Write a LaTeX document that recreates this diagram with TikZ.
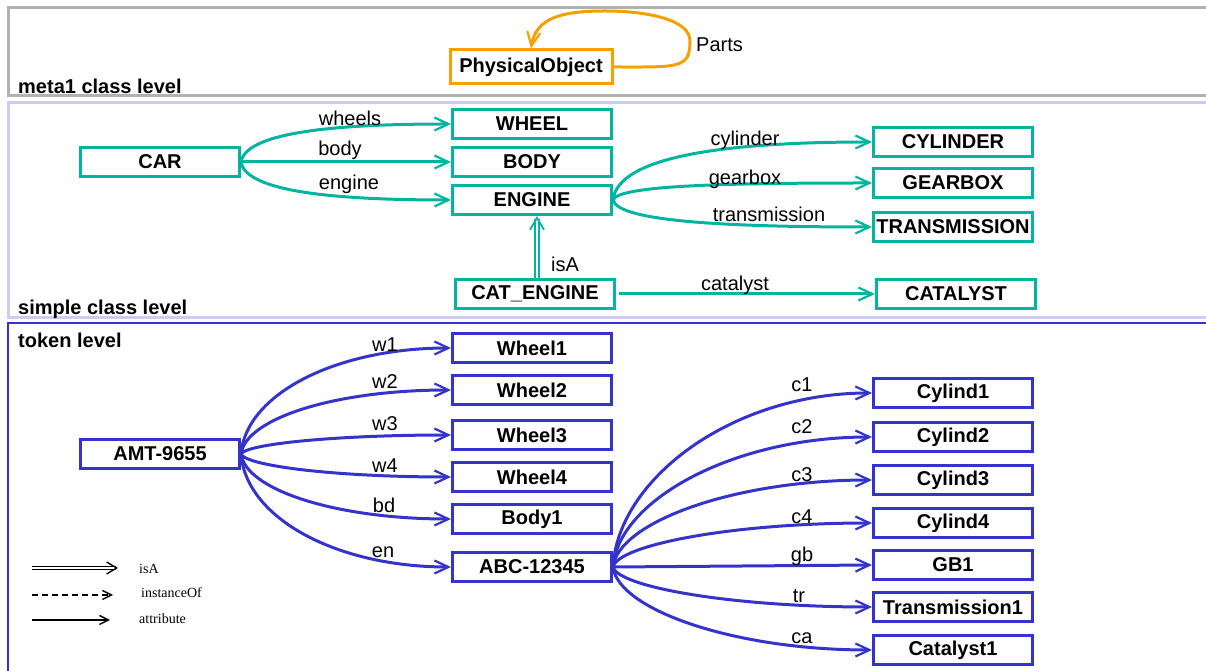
\documentclass[tikz,border=0pt]{standalone}
\usepackage{fontspec}
\setmainfont{Liberation Sans}
\newfontfamily\legendfont{Liberation Serif}
\usetikzlibrary{arrows.meta,calc}

\definecolor{metagray}{RGB}{178,178,178}
\definecolor{simplelav}{RGB}{204,204,246}
\definecolor{tokenblue}{RGB}{52,52,204}
\definecolor{classteal}{RGB}{0,180,160}
\definecolor{metaorange}{RGB}{246,160,0}

\tikzset{
  box/.style={draw, line width=3pt, fill=white, minimum width=159pt, minimum height=29pt,
              inner sep=0pt, font=\fontsize{20}{23}\selectfont\bfseries, text=black},
  metabox/.style={box, draw=metaorange, minimum width=162pt, minimum height=34pt},
  classbox/.style={box, draw=classteal},
  tokenbox/.style={box, draw=tokenblue},
  rel/.style={line width=3pt, -{Straight Barb[length=14pt,width=13pt,line width=2.2pt]}},
  classrel/.style={rel, classteal},
  tokenrel/.style={rel, tokenblue},
  lbl/.style={font=\fontsize{20}{23}\selectfont, text=black, inner sep=0pt},
  levellbl/.style={font=\fontsize{20}{23}\selectfont\bfseries, anchor=west, inner sep=0pt},
  legendlbl/.style={font=\legendfont\fontsize{14}{16}\selectfont, anchor=west, inner sep=0pt},
  legendarrow/.style={line width=1.4pt, -{Straight Barb[length=9pt,width=9pt,line width=1.4pt]}},
}

\begin{document}
\begin{tikzpicture}[x=1pt,y=1pt]
\useasboundingbox (0,0) rectangle (1206,671);

% level frames
\draw[metagray, line width=3pt] (8,575) rectangle (1220,663);
\draw[simplelav, line width=3pt] (8,353) rectangle (1220,568);
\draw[tokenblue, line width=2.5pt] (8,-20) rectangle (1220,348);

\node[levellbl] (lvmeta) at (18,585) {meta1 class level};
\node[levellbl] (lvsimple) at (18,362) {simple class level};
\node[levellbl] (lvtoken) at (18,331) {token level};

% meta1 class level
\node[metabox] (po) at (531,604) {PhysicalObject};
\coordinate (loopR) at (690,630);
\coordinate (loopT) at (605,660);
\draw[rel, metaorange] (po.east) .. controls +(65,0) and +(0,-28) .. (loopR)
  .. controls +(0,22) and +(40,0) .. (loopT)
  .. controls +(-45,0) and +(5,30) .. (po.north);
\node[lbl, anchor=west] (lparts) at (696,626) {Parts};

% simple class level
\node[classbox] (car) at (160,509) {CAR};
\node[classbox] (wheel) at (532,547) {WHEEL};
\node[classbox] (body) at (532,509) {BODY};
\node[classbox] (engine) at (532,471) {ENGINE};
\node[classbox] (cyl) at (953,529) {CYLINDER};
\node[classbox] (gear) at (953,488) {GEARBOX};
\node[classbox] (trans) at (953,444) {TRANSMISSION};
\node[classbox] (cateng) at (535,377) {CAT\_ENGINE};
\node[classbox] (cat) at (956,377) {CATALYST};

\draw[classrel] (car.east) .. controls +(5,30) and +(-115,0) .. (wheel.west);
\draw[classrel] (car.east) -- (body.west);
\draw[classrel] (car.east) .. controls +(5,-30) and +(-115,0) .. (engine.west);
\draw[classrel] (engine.east) .. controls +(5,45) and +(-140,0) .. (cyl.west);
\draw[classrel] (engine.east) .. controls +(5,15) and +(-140,0) .. (gear.west);
\draw[classrel] (engine.east) .. controls +(5,-22) and +(-140,0) .. (trans.west);
\draw[classrel, shorten <=3pt] (cateng.east) -- (cat.west);
\draw[classteal, line width=1.6pt, double distance=2.2pt,
      -{Straight Barb[length=12pt,width=14pt,line width=1.8pt]}]
  ([xshift=2pt]cateng.north) -- ([xshift=2pt]cateng.north |- engine.south);

\node[lbl] (lwheels) at (350,553) {wheels};
\node[lbl] (lbody) at (340,521) {body};
\node[lbl] (lengine) at (349,487) {engine};
\node[lbl] (lcyl) at (745,531) {cylinder};
\node[lbl] (lgear) at (745,492) {gearbox};
\node[lbl] (ltrans) at (769,457) {transmission};
\node[lbl] (lcat) at (735,386) {catalyst};
\node[lbl] (lisa) at (565,407) {isA};

% token level
\node[tokenbox] (amt) at (160,217) {AMT-9655};
\node[tokenbox] (w1) at (532,323) {Wheel1};
\node[tokenbox] (w2) at (532,281) {Wheel2};
\node[tokenbox] (w3) at (532,236) {Wheel3};
\node[tokenbox] (w4) at (532,194) {Wheel4};
\node[tokenbox] (b1) at (532,152) {Body1};
\node[tokenbox] (abc) at (532,104) {ABC-12345};
\node[tokenbox] (c1) at (953,278) {Cylind1};
\node[tokenbox] (c2) at (953,234) {Cylind2};
\node[tokenbox] (c3) at (953,191) {Cylind3};
\node[tokenbox] (c4) at (953,148) {Cylind4};
\node[tokenbox] (gb1) at (953,106) {GB1};
\node[tokenbox] (tr1) at (953,64) {Transmission1};
\node[tokenbox] (ca1) at (953,21) {Catalyst1};

\draw[tokenrel] (amt.east) .. controls +(5,60) and +(-115,0) .. (w1.west);
\draw[tokenrel] (amt.east) .. controls +(5,36) and +(-115,0) .. (w2.west);
\draw[tokenrel] (amt.east) .. controls +(5,10) and +(-115,0) .. (w3.west);
\draw[tokenrel] (amt.east) .. controls +(5,-12) and +(-115,0) .. (w4.west);
\draw[tokenrel] (amt.east) .. controls +(5,-36) and +(-115,0) .. (b1.west);
\draw[tokenrel] (amt.east) .. controls +(5,-64) and +(-115,0) .. (abc.west);

\draw[tokenrel] (abc.east) .. controls +(5,88) and +(-140,0) .. (c1.west);
\draw[tokenrel] (abc.east) .. controls +(5,66) and +(-140,0) .. (c2.west);
\draw[tokenrel] (abc.east) .. controls +(5,44) and +(-140,0) .. (c3.west);
\draw[tokenrel] (abc.east) .. controls +(5,22) and +(-140,0) .. (c4.west);
\draw[tokenrel] (abc.east) -- (gb1.west);
\draw[tokenrel] (abc.east) .. controls +(5,-20) and +(-140,0) .. (tr1.west);
\draw[tokenrel] (abc.east) .. controls +(5,-42) and +(-140,0) .. (ca1.west);

\node[lbl] (lw1) at (385,326) {w1};
\node[lbl] (lw2) at (385,289) {w2};
\node[lbl] (lw3) at (385,247) {w3};
\node[lbl] (lw4) at (385,205) {w4};
\node[lbl] (lbd) at (384,166) {bd};
\node[lbl] (len) at (383,119) {en};
\node[lbl] (lc1) at (802,286) {c1};
\node[lbl] (lc2) at (802,244) {c2};
\node[lbl] (lc3) at (802,196) {c3};
\node[lbl] (lc4) at (802,154) {c4};
\node[lbl] (lgb) at (802,115) {gb};
\node[lbl] (ltr) at (799,75) {tr};
\node[lbl] (lca) at (802,33) {ca};

% legend
\coordinate (lgA0) at (32,103);  \coordinate (lgA1) at (118,103);
\coordinate (lgB0) at (32,76);   \coordinate (lgB1) at (113,76);
\coordinate (lgC0) at (32,51);   \coordinate (lgC1) at (110,51);
\draw[line width=1.3pt, double distance=1.8pt,
      -{Straight Barb[length=10pt,width=12pt,line width=1.4pt]}] (lgA0) -- (lgA1);
\draw[legendarrow, dash pattern=on 6pt off 4pt] (lgB0) -- (lgB1);
\draw[legendarrow] (lgC0) -- (lgC1);
\node[legendlbl] (lgisa) at (139,102) {isA};
\node[legendlbl] (lginst) at (141,78) {instanceOf};
\node[legendlbl] (lgattr) at (139,52) {attribute};
\end{tikzpicture}
\end{document}
